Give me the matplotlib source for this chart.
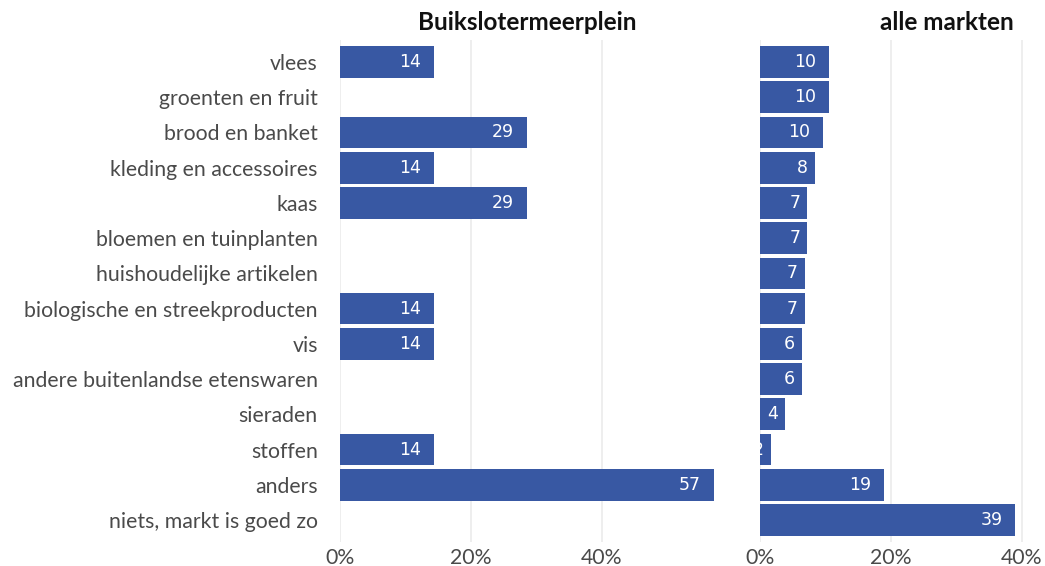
import matplotlib
matplotlib.use("Agg")
import matplotlib.pyplot as plt
import numpy as np

categories = [
    "vlees", "groenten en fruit", "brood en banket", "kleding en accessoires",
    "kaas", "bloemen en tuinplanten", "huishoudelijke artikelen",
    "biologische en streekproducten", "vis", "andere buitenlandse etenswaren",
    "sieraden", "stoffen", "anders", "niets, markt is goed zo",
]
buikslotermeerplein = [14.3, 0, 28.6, 14.3, 28.6, 0, 0, 14.3, 14.3, 0, 0, 14.3, 57.1, 0]
alle_markten = [10.5, 10.5, 9.6, 8.4, 7.2, 7.2, 6.8, 6.8, 6.4, 6.4, 3.8, 1.7, 19.0, 39.0]
panel_titles = ["Buikslotermeerplein", "alle markten"]
xticks = [0, 20, 40]
xticklabels = ["0%", "20%", "40%"]

BAR = "#3858a3"
TXT = "#4a4a4a"
GRID = "#ebebeb"
FONT = "Lato"

W, H = 1045, 566
fig = plt.figure(figsize=(W / 100, H / 100), dpi=100)

def px_axes(x0, y0, x1, y1):
    return fig.add_axes([x0 / W, 1 - y1 / H, (x1 - x0) / W, (y1 - y0) / H])

ax1 = px_axes(340, 40, 714, 542)
ax2 = px_axes(760, 40, 1134, 542)

y = np.arange(len(categories))
for ax, vals, title in [(ax1, buikslotermeerplein, panel_titles[0]),
                        (ax2, alle_markten, panel_titles[1])]:
    ax.set_xlim(0, 57.1)
    ax.set_ylim(len(categories) - 1 + 0.625, -0.625)
    ax.set_xticks(xticks)
    ax.grid(axis="x", color=GRID, linewidth=1.2, zorder=0)
    ax.set_axisbelow(True)
    for s in ax.spines.values():
        s.set_visible(False)
    ax.tick_params(length=0, pad=4)
    ax.set_xticklabels(xticklabels, fontsize=15.3, color=TXT, family=FONT)
    ax.barh(y, vals, height=0.9, color=BAR, zorder=2)
    for yi, v in zip(y, vals):
        if v > 0:
            off = -7 if round(v) < 10 else -13
            ax.annotate(f"{round(v):d}", xy=(v, yi), xytext=(off, 0),
                        textcoords="offset pixels", ha="right", va="center",
                        color="white", fontsize=12.5, family="DejaVu Sans",
                        clip_on=True, zorder=3)
    ax.set_title(title, fontsize=17.5, fontweight="bold", family=FONT,
                 color="#111111", pad=7)

ax1.set_yticks(y)
ax1.set_yticklabels(categories, fontsize=15.3, color=TXT, family=FONT)
ax1.tick_params(axis="y", pad=16)
ax2.set_yticks([])

fig.savefig("out.png", dpi=100)
